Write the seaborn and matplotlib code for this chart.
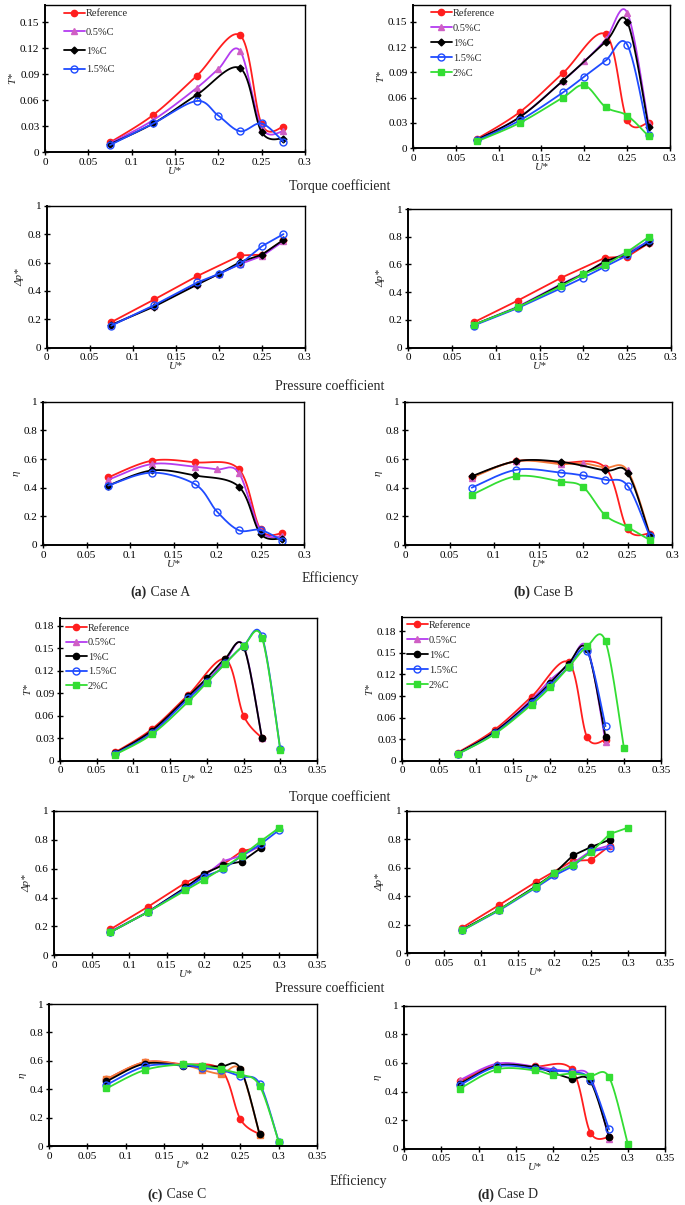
import numpy as np
import pandas as pd
import matplotlib
matplotlib.use("Agg")
import matplotlib.pyplot as plt
import seaborn as sns
from matplotlib.lines import Line2D
from matplotlib.ticker import FuncFormatter

# x positions (U*)
U6 = [0.075, 0.125, 0.175, 0.225, 0.25, 0.275]
U7 = [0.075, 0.125, 0.175, 0.2, 0.225, 0.25, 0.275]
U8 = [0.075, 0.125, 0.175, 0.2, 0.225, 0.25, 0.275, 0.3]

# Case A
ta_ref = [0.011, 0.043, 0.088, 0.135, 0.032, 0.029]
ta_05 = [0.010, 0.037, 0.074, 0.096, 0.117, 0.028, 0.024]
ta_1 = [0.009, 0.033, 0.066, 0.097, 0.023, 0.0155]
ta_15 = [0.008, 0.033, 0.059, 0.042, 0.024, 0.033, 0.012]
pa_ref = [0.18, 0.34, 0.505, 0.65, 0.655, 0.755]
pa_05 = [0.16, 0.295, 0.45, 0.52, 0.59, 0.645, 0.75]
pa_1 = [0.16, 0.29, 0.445, 0.52, 0.605, 0.655, 0.76]
pa_15 = [0.155, 0.30, 0.46, 0.52, 0.59, 0.715, 0.80]
ea_ref = [0.472, 0.588, 0.577, 0.53, 0.109, 0.081]
ea_05 = [0.455, 0.565, 0.545, 0.528, 0.505, 0.10, 0.06]
ea_1 = [0.415, 0.52, 0.485, 0.408, 0.078, 0.045]
ea_15 = [0.415, 0.505, 0.423, 0.233, 0.103, 0.105, 0.03]

# Case B
tb_ref = [0.011, 0.043, 0.089, 0.135, 0.033, 0.030]
tb_05 = [0.010, 0.037, 0.080, 0.103, 0.129, 0.161, 0.028]
tb_1 = [0.010, 0.037, 0.080, 0.1265, 0.150, 0.025]
tb_15 = [0.009, 0.033, 0.066, 0.085, 0.104, 0.123, 0.0155]
tb_2 = [0.008, 0.030, 0.060, 0.0745, 0.0485, 0.0386, 0.014]
pb_ref = [0.183, 0.339, 0.505, 0.649, 0.656, 0.755]
pb_05 = [0.165, 0.295, 0.46, 0.535, 0.61, 0.69, 0.765]
pb_1 = [0.165, 0.29, 0.455, 0.53, 0.625, 0.675, 0.755]
pb_15 = [0.16, 0.285, 0.43, 0.505, 0.585, 0.665, 0.775]
pb_2 = [0.165, 0.29, 0.445, 0.53, 0.595, 0.69, 0.80]
eb_ref = [0.475, 0.585, 0.575, 0.54, 0.11, 0.08]
eb_05 = [0.47, 0.585, 0.565, 0.57, 0.54, 0.52, 0.08]
eb_1 = [0.48, 0.585, 0.58, 0.52, 0.505, 0.07]
eb_15 = [0.40, 0.525, 0.505, 0.485, 0.455, 0.415, 0.06]
eb_2 = [0.35, 0.48, 0.443, 0.405, 0.207, 0.125, 0.035]

# Case C
tc_ref = [0.011, 0.042, 0.088, 0.135, 0.060, 0.030]
tc_05 = [0.010, 0.038, 0.085, 0.106, 0.133, 0.153, 0.030]
tc_1 = [0.010, 0.040, 0.086, 0.110, 0.136, 0.152, 0.030]
tc_15 = [0.009, 0.037, 0.083, 0.105, 0.130, 0.153, 0.166, 0.015]
tc_2 = [0.008, 0.035, 0.079, 0.104, 0.129, 0.153, 0.164, 0.014]
pc_ref = [0.18, 0.336, 0.503, 0.63, 0.722, 0.75]
pc_05 = [0.165, 0.30, 0.47, 0.55, 0.653, 0.69, 0.76]
pc_1 = [0.16, 0.30, 0.47, 0.566, 0.625, 0.65, 0.743]
pc_15 = [0.16, 0.30, 0.46, 0.545, 0.595, 0.69, 0.77, 0.87]
pc_2 = [0.16, 0.30, 0.45, 0.525, 0.605, 0.69, 0.79, 0.885]
ec_ref = [0.47, 0.59, 0.575, 0.535, 0.188, 0.082]
ec_05 = [0.47, 0.59, 0.57, 0.536, 0.508, 0.535, 0.08]
ec_1 = [0.455, 0.58, 0.565, 0.56, 0.56, 0.545, 0.082]
ec_15 = [0.43, 0.56, 0.57, 0.55, 0.535, 0.49, 0.44, 0.03]
ec_2 = [0.405, 0.535, 0.575, 0.565, 0.54, 0.505, 0.425, 0.03]

# Case D
td_ref = [0.011, 0.043, 0.089, 0.137, 0.033, 0.029]
td_05 = [0.010, 0.040, 0.085, 0.112, 0.133, 0.158, 0.026]
td_1 = [0.010, 0.040, 0.083, 0.108, 0.135, 0.155, 0.033]
td_15 = [0.009, 0.038, 0.081, 0.105, 0.130, 0.153, 0.048]
td_2 = [0.009, 0.037, 0.078, 0.102, 0.130, 0.159, 0.166, 0.017]
pd_ref = [0.18, 0.338, 0.50, 0.648, 0.653, 0.753]
pd_05 = [0.165, 0.305, 0.47, 0.555, 0.63, 0.72, 0.755]
pd_1 = [0.165, 0.305, 0.47, 0.56, 0.685, 0.745, 0.795]
pd_15 = [0.16, 0.30, 0.46, 0.545, 0.61, 0.715, 0.735]
pd_2 = [0.16, 0.305, 0.465, 0.56, 0.62, 0.71, 0.835, 0.88]
ed_ref = [0.47, 0.585, 0.575, 0.555, 0.112, 0.08]
ed_05 = [0.48, 0.595, 0.575, 0.555, 0.54, 0.50, 0.07]
ed_1 = [0.455, 0.58, 0.57, 0.53, 0.49, 0.47, 0.083]
ed_15 = [0.445, 0.575, 0.56, 0.545, 0.535, 0.48, 0.135]
ed_2 = [0.42, 0.555, 0.548, 0.515, 0.525, 0.51, 0.50, 0.035]

labels = ["Reference", "0.5%C", "1%C", "1.5%C", "2%C"]

RED = "#FF1E1E"
PURP = "#B43CF0"
PINK = "#CF5FC4"
BLUE = "#1F4BFF"
GREEN = "#33DD33"
ORANGE = "#F47A3A"

base_style = {
    "Reference": dict(color=RED, marker="o", mfc=RED, mec=RED, ms=4.5),
    "0.5%C": dict(color=PURP, marker="^", mfc=PINK, mec=PINK, ms=4.5),
    "1%C": dict(color="black", marker="D", mfc="black", mec="black", ms=3.5),
    "1.5%C": dict(color=BLUE, marker="o", mfc="none", mec=BLUE, ms=5),
    "2%C": dict(color=GREEN, marker="s", mfc=GREEN, mec=GREEN, ms=4.5),
}

sns.set_theme(style="ticks")
plt.rcParams['font.family'] = ['Liberation Serif', 'DejaVu Serif']
plt.rcParams['mathtext.fontset'] = 'stix'

W, H = 685, 1205
fig = plt.figure(figsize=(W / 100, H / 100), dpi=100)


def smooth(xs, ys, n=25):
    # excel-like bezier smoothing through the points
    pts = np.column_stack([xs, ys]).astype(float)
    out = []
    for i in range(len(pts) - 1):
        p0 = pts[i - 1] if i > 0 else pts[i]
        p1 = pts[i]
        p2 = pts[i + 1]
        p3 = pts[i + 2] if i + 2 < len(pts) else pts[i + 1]
        c1 = p1 + (p2 - p0) / 6
        c2 = p2 - (p3 - p1) / 6
        t = np.linspace(0, 1, n)[:, None]
        seg = (1 - t) ** 3 * p1 + 3 * (1 - t) ** 2 * t * c1 + 3 * (1 - t) * t ** 2 * c2 + t ** 3 * p2
        out.append(seg if i == 0 else seg[1:])
    out = np.vstack(out)
    return out[:, 0], out[:, 1]


def px_axes(l, r, t, b):
    return fig.add_axes([l / W, 1 - b / H, (r - l) / W, (b - t) / H])


def fmt(v, pos):
    return f"{round(v, 3):g}"


def panel(box, series, xmax, ylim, ystep, ylabel, smoothed, over=None, circ=False):
    ax = px_axes(*box)
    for lab, xs, ys in series:
        st = dict(base_style[lab])
        if circ and lab == "1%C":
            st.update(marker="o", ms=4.5)
        if over and lab in over:
            st.update(over[lab])
        if smoothed:
            cx, cy = smooth(xs, ys)
        else:
            cx, cy = np.array(xs), np.array(ys)
        df = pd.DataFrame({"U": cx, "v": cy})
        sns.lineplot(data=df, x="U", y="v", ax=ax, color=st["color"], lw=1.3,
                     sort=False, estimator=None, legend=False)
        ax.plot(xs, ys, ls="none", marker=st["marker"], ms=st["ms"],
                mfc=st["mfc"], mec=st["mec"], mew=1.0)
    ax.set_xlim(0, xmax)
    ax.set_ylim(*ylim)
    ax.set_xticks(np.arange(0, xmax + 1e-9, 0.05))
    ax.set_yticks(np.arange(0, ylim[1] - 0.005 + 1e-9, ystep) if ylim[1] < 0.5 else np.arange(0, 1.01, 0.2))
    ax.xaxis.set_major_formatter(FuncFormatter(fmt))
    ax.yaxis.set_major_formatter(FuncFormatter(fmt))
    ax.tick_params(direction="inout", length=4, width=1, labelsize=8, pad=2, colors="black")
    for s in ["left", "bottom"]:
        ax.spines[s].set_linewidth(1.4)
    for s in ["top", "right"]:
        ax.spines[s].set_linewidth(1.0)
    for s in ax.spines.values():
        s.set_color("black")
    ax.set_xlabel("U*", fontsize=8, style="italic", labelpad=0)
    ax.set_ylabel(ylabel, fontsize=8, style="italic", labelpad=2)
    ax.set_facecolor("white")
    return ax


def add_legend(ax, labs, x, y, spacing, circ=False):
    handles = []
    for lab in labs:
        st = dict(base_style[lab])
        if circ and lab == "1%C":
            st.update(marker="o", ms=4.5)
        handles.append(Line2D([], [], color=st["color"], lw=1.3, marker=st["marker"],
                              ms=st["ms"], mfc=st["mfc"], mec=st["mec"]))
    fig.legend(handles, labs, loc="upper left", bbox_to_anchor=(x / W, 1 - y / H),
               frameon=False, fontsize=7.5, handlelength=2.0, handletextpad=0.1,
               labelspacing=spacing, borderpad=0, borderaxespad=0)


# ---- Case A ----
axA = panel((45, 305, 5, 152), [("Reference", U6, ta_ref), ("0.5%C", U7, ta_05),
            ("1%C", U6, ta_1), ("1.5%C", U7, ta_15)], 0.3, (0, 0.17), 0.03, "T*", True)
add_legend(axA, labels[:4], 64, 9, 0.9)
panel((46.7, 305, 205.7, 347.7), [("Reference", U6, pa_ref), ("0.5%C", U7, pa_05),
      ("1%C", U7, pa_1), ("1.5%C", U7, pa_15)], 0.3, (0, 1), 0.2, "Δp*", False)
panel((43, 304, 401.7, 545), [("Reference", U6, ea_ref), ("0.5%C", U7, ea_05),
      ("1%C", U6, ea_1), ("1.5%C", U7, ea_15)], 0.3, (0, 1), 0.2, "η", True)

# ---- Case B ----
axB = panel((413, 670, 5, 148), [("Reference", U6, tb_ref), ("0.5%C", U7, tb_05),
            ("1%C", U6, tb_1), ("1.5%C", U7, tb_15), ("2%C", U7, tb_2)],
            0.3, (0, 0.17), 0.03, "T*", True)
add_legend(axB, labels, 431, 8.5, 0.55)
panel((408, 671, 209, 347.7), [("Reference", U6, pb_ref), ("0.5%C", U7, pb_05),
      ("1%C", U7, pb_1), ("1.5%C", U7, pb_15), ("2%C", U7, pb_2)],
      0.3, (0, 1), 0.2, "Δp*", False)
panel((405, 672, 401.7, 545), [("Reference", U6, eb_ref), ("0.5%C", U7, eb_05),
      ("1%C", U6, eb_1), ("1.5%C", U7, eb_15), ("2%C", U7, eb_2)],
      0.3, (0, 1), 0.2, "η", True, over={"0.5%C": dict(color=ORANGE)})

# ---- Case C ----
axC = panel((60, 317, 618, 760.7), [("Reference", U6, tc_ref), ("0.5%C", U7, tc_05),
            ("1%C", U7, tc_1), ("1.5%C", U8, tc_15), ("2%C", U8, tc_2)],
            0.35, (0, 0.19), 0.03, "T*", True, circ=True)
add_legend(axC, labels, 66, 623.5, 0.5, circ=True)
panel((54, 317, 811, 955.3), [("Reference", U6, pc_ref), ("0.5%C", U7, pc_05),
      ("1%C", U7, pc_1), ("1.5%C", U8, pc_15), ("2%C", U8, pc_2)],
      0.35, (0, 1), 0.2, "Δp*", False, circ=True)
panel((49, 317, 1004, 1146), [("Reference", U6, ec_ref), ("0.5%C", U7, ec_05),
      ("1%C", U7, ec_1), ("1.5%C", U8, ec_15), ("2%C", U8, ec_2)],
      0.35, (0, 1), 0.2, "η", True, circ=True,
      over={"0.5%C": dict(color=ORANGE, marker="s", mfc=ORANGE, mec=ORANGE)})

# ---- Case D ----
axD = panel((402, 661, 617, 760.7), [("Reference", U6, td_ref), ("0.5%C", U7, td_05),
            ("1%C", U7, td_1), ("1.5%C", U7, td_15), ("2%C", U8, td_2)],
            0.35, (0, 0.20), 0.03, "T*", True, circ=True)
add_legend(axD, labels, 407, 620.5, 0.55, circ=True)
panel((407, 665, 810.5, 953.3), [("Reference", U6, pd_ref), ("0.5%C", U7, pd_05),
      ("1%C", U7, pd_1), ("1.5%C", U7, pd_15), ("2%C", U8, pd_2)],
      0.35, (0, 1), 0.2, "Δp*", False, circ=True)
panel((404, 665, 1005.7, 1148.7), [("Reference", U6, ed_ref), ("0.5%C", U7, ed_05),
      ("1%C", U7, ed_1), ("1.5%C", U7, ed_15), ("2%C", U8, ed_2)],
      0.35, (0, 1), 0.2, "η", True, circ=True)

# captions
def cap(x, y, s, **kw):
    fig.text(x / W, 1 - y / H, s, ha="center", va="center", fontsize=10, **kw)

cap(340, 186, "Torque coefficient")
cap(330, 386, "Pressure coefficient")
cap(330, 578, "Efficiency")
cap(340, 797, "Torque coefficient")
cap(330, 989, "Pressure coefficient")
cap(358, 1181, "Efficiency")


def case(x, y, tag, name):
    fig.text(x / W, 1 - y / H, tag, ha="right", va="center", fontsize=10, weight="bold")
    fig.text(x / W, 1 - y / H, " " + name, ha="left", va="center", fontsize=10)

case(147, 592, "(a)", "Case A")
case(530, 592, "(b)", "Case B")
case(163, 1195, "(c)", "Case C")
case(494, 1195, "(d)", "Case D")

fig.savefig("out.png", dpi=100, facecolor="white")
